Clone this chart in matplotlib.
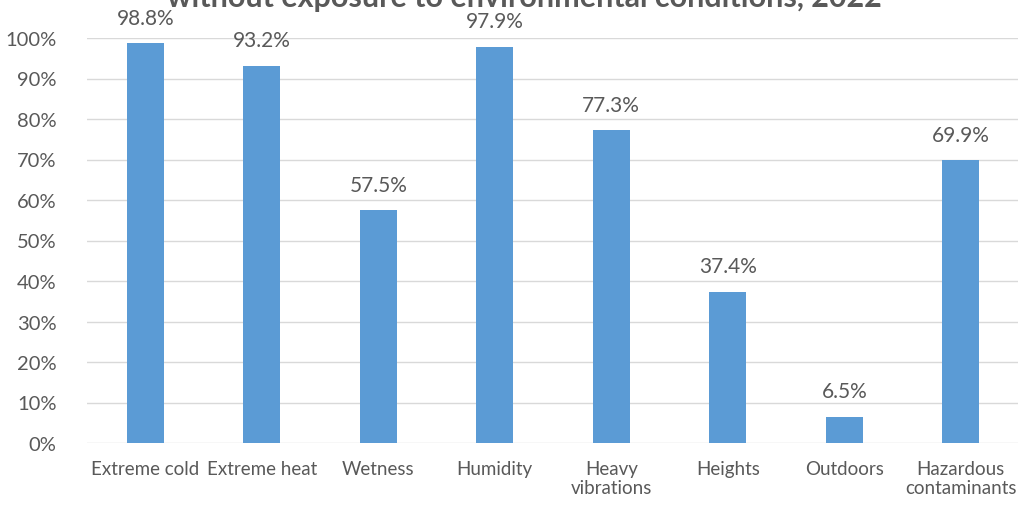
import matplotlib.pyplot as plt
import numpy as np

plt.rcParams['font.family'] = ['Lato', 'DejaVu Sans']

categories = ['Extreme cold', 'Extreme heat', 'Wetness', 'Humidity',
              'Heavy\nvibrations', 'Heights', 'Outdoors', 'Hazardous\ncontaminants']
values = [98.8, 93.2, 57.5, 97.9, 77.3, 37.4, 6.5, 69.9]
yticks = [0, 10, 20, 30, 40, 50, 60, 70, 80, 90, 100]
title = 'without exposure to environmental conditions, 2022'

text_color = '#595959'
bar_color = '#5b9bd5'

fig = plt.figure(figsize=(10.18, 5.06), dpi=100)
ax = fig.add_axes([87 / 1018, 1 - 444 / 506, 932 / 1018, 405 / 506])

x = np.arange(len(categories))
ax.bar(x, values, width=0.32, color=bar_color, zorder=3)
for xi, v in zip(x, values):
    ax.annotate(f'{v:.1f}%', (xi, v), xytext=(0, 11), textcoords='offset points',
                ha='center', va='bottom', fontsize=15, color=text_color)

ax.set_xlim(-0.5, len(categories) - 0.5)
ax.set_ylim(0, 100)
ax.set_yticks(yticks)
ax.set_yticklabels([f'{t}%' for t in yticks], fontsize=14.5, color=text_color)
ax.set_xticks(x)
ax.set_xticklabels(categories, fontsize=13.5, color=text_color, va='top')
ax.tick_params(axis='both', length=0)
ax.tick_params(axis='x', pad=12)
ax.tick_params(axis='y', pad=22)
ax.grid(axis='y', color='#d9d9d9', linewidth=1, zorder=0)
ax.set_axisbelow(True)
for s in ax.spines.values():
    s.set_visible(False)

# title sits partly above the image edge, as in the source crop
fig.text(0.515, 1 - 7 / 506, title, ha='center', va='baseline',
         fontsize=22, fontweight='bold', color=text_color)

fig.savefig('out.png', dpi=100)
